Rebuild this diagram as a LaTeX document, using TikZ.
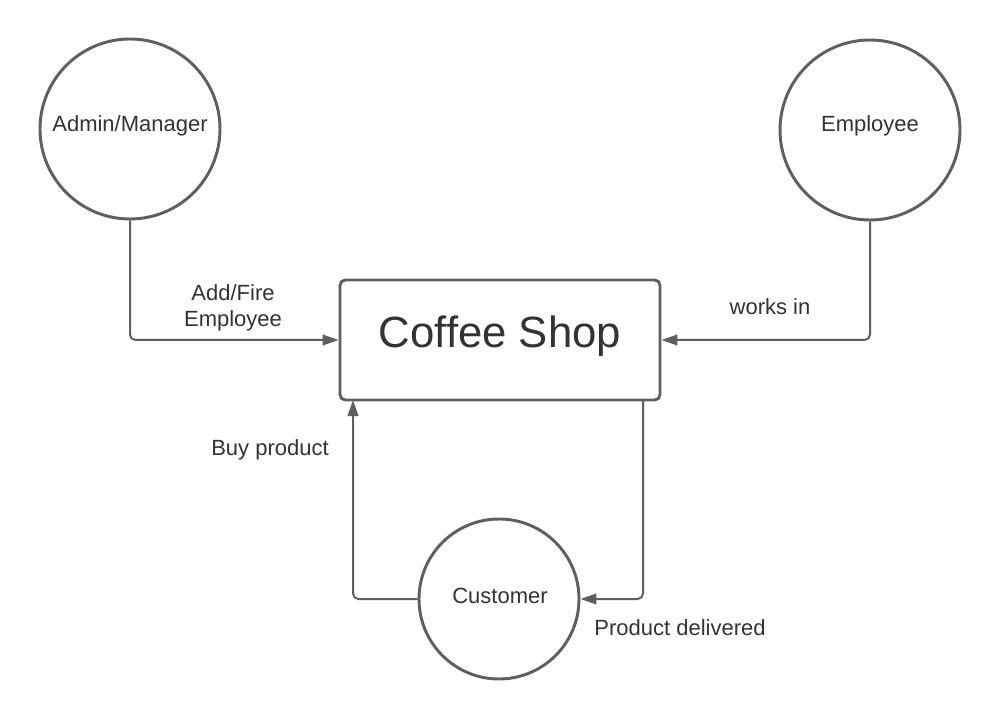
\documentclass[tikz,border=0pt]{standalone}
\usepackage{fontspec}
\setmainfont{Liberation Sans}
\usetikzlibrary{arrows.meta}
\definecolor{linegray}{HTML}{5F5F5F}
\definecolor{txtgray}{HTML}{333333}
\begin{document}
\begin{tikzpicture}[x=0.75pt,y=-0.75pt,
  circ/.style={circle,draw=linegray,line width=2.2pt,minimum size=135pt,inner sep=0pt,fill=white},
  shopbox/.style={rectangle,draw=linegray,line width=2.2pt,rounded corners=4pt,minimum width=240pt,minimum height=90pt,inner sep=0pt,fill=white},
  lbl/.style={text=txtgray,font=\fontsize{16.5pt}{19.5pt}\selectfont,inner sep=0pt,anchor=base},
  conn/.style={draw=linegray,line width=1.5pt,rounded corners=4pt,-{Triangle[length=12pt,width=8pt]}}
]
\useasboundingbox[fill=white] (0,0) rectangle (1000,720);
% nodes
\node[circ] (admin) at (130,129) {};
\node[circ] (emp) at (870,130) {};
\node[circ, minimum size=120pt] (cust) at (499,599) {};
\node[shopbox] (shop) at (500,340) {};
% texts
\node[lbl] (admintxt) at (130,132) {Admin/Manager};
\node[lbl] (emptxt) at (870,132) {Employee};
\node[lbl] (custtxt) at (500,603) {Customer};
\node[text=txtgray,font=\fontsize{32.8pt}{38pt}\selectfont,inner sep=0pt,anchor=base] (shoptxt) at (500,348) {Coffee Shop};
% helper coordinates
\coordinate (bl) at (353,400);
\coordinate (br) at (643,400);
% connectors
\draw[conn] (admin.south) |- (shop.west);
\draw[conn] (emp.south) |- (shop.east);
\draw[conn] (cust.west) -| (bl);
\draw[conn] (br) |- (cust.east);
% connector labels
\node[lbl] (addtxt1) at (233,301) {Add/Fire};
\node[lbl] (addtxt2) at (233,327) {Employee};
\node[lbl] (workstxt) at (770,315) {works in};
\node[lbl] (buytxt) at (270,455) {Buy product};
\node[lbl] (delivtxt) at (680,635) {Product delivered};
\end{tikzpicture}
\end{document}
